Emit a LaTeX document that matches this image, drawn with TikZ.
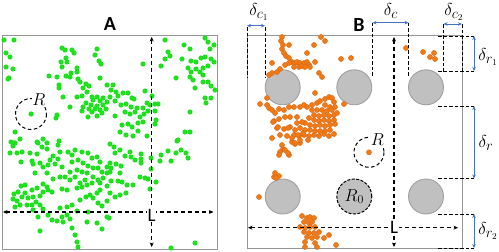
\documentclass[tikz,border=0pt]{standalone}
\usepackage{fontspec}
\setsansfont{Carlito}
\usetikzlibrary{arrows.meta}
\definecolor{dotgreen}{RGB}{30,225,30}
\definecolor{dotorange}{RGB}{240,122,24}
\definecolor{dotorangeedge}{RGB}{215,100,15}
\definecolor{obst}{RGB}{192,192,192}
\definecolor{obstedge}{RGB}{160,160,160}
\definecolor{dimblue}{RGB}{68,114,196}
\definecolor{framegray}{RGB}{150,150,150}
\begin{document}
\begin{tikzpicture}[x=1pt,y=-1pt,
  framebox/.style={draw=framegray,line width=0.9pt},
  Larrow/.style={dash pattern=on 4.5pt off 2.5pt, line width=1.2pt,
     {Stealth[length=4.5pt,width=4pt]}-{Stealth[length=4.5pt,width=4pt]}},
  guide/.style={dash pattern=on 3.5pt off 2pt, line width=0.9pt},
  bluearrow/.style={draw=dimblue, line width=0.7pt,
     {Stealth[length=4pt,width=3.5pt]}-{Stealth[length=4pt,width=3.5pt]}},
  obstacle/.style={circle, fill=obst, draw=obstedge, line width=0.9pt, minimum size=35pt, inner sep=0pt},
  gdot/.style={fill=dotgreen},
  odot/.style={fill=dotorange, draw=dotorangeedge, line width=0.3pt},
  title/.style={font=\fontsize{20}{20}\selectfont\sffamily\bfseries, inner sep=0pt},
  Llabel/.style={font=\fontsize{19}{19}\selectfont\sffamily, fill=white, inner sep=0.6pt},
  dlabel/.style={font=\fontsize{19}{19}\selectfont, inner sep=0pt},
  rlabel/.style={font=\fontsize{16}{16}\selectfont, fill=white, inner sep=0.6pt},
  rcircle/.style={draw, dash pattern=on 3.5pt off 2.5pt, line width=1pt}
]
\useasboundingbox (0,0) rectangle (499,252);

% ---------------- Panel A ----------------
\node[title] (titleA) at (110,24) {A};
\draw[framebox] (2,35) rectangle (217,249);

\foreach \x/\y in {4/40,14/40,6/53,10/57,6/67,13/69,9/78,8/79,
62/48,65/50,72/50,74/53,97/49,95/55,66/58,61/62,67/62,62/67,77/68,99/61,101/64,71/73,66/76,77/72,49/76,57/77,70/77,78/79,100/78,80/82,59/85,59/88,86/84,89/86,83/88,107/85,87/92,63/97,77/97,82/96,92/97,97/97,103/98,93/100,100/101,86/103,91/105,97/106,103/105,107/102,83/107,70/107,89/109,95/109,100/110,106/109,82/111,92/112,102/113,57/115,88/117,97/116,56/118,31/114,15/132,11/142,14/143,20/139,43/139,37/142,47/143,59/141,
165/40,184/45,190/49,205/38,208/42,214/45,210/49,168/52,170/56,165/59,161/66,182/59,191/61,196/62,201/58,205/57,211/59,214/62,188/68,196/69,203/68,208/66,191/72,200/72,190/77,203/75,193/80,208/82,211/86,215/90,203/82,195/88,143/64,176/78,205/98,211/98,206/103,190/112,185/132,190/132,178/140,
113/85,111/90,116/92,110/97,118/96,123/93,128/93,132/98,134/99,145/91,152/96,115/101,121/105,126/104,131/107,137/108,143/108,147/103,150/105,155/104,158/104,115/116,125/112,130/114,135/112,140/117,144/114,148/111,155/111,156/120,122/125,128/124,132/127,138/123,143/122,120/132,126/135,133/136,138/131,147/136,155/124,
15/143,13/146,10/153,17/153,22/152,30/153,38/143,42/147,37/154,47/149,58/145,60/152,53/156,50/160,58/159,48/165,55/164,32/161,33/164,21/162,40/163,43/167,62/167,68/152,72/155,75/150,82/152,88/153,92/158,97/157,100/162,72/162,78/160,83/163,88/166,93/168,98/168,102/172,107/167,107/173,87/173,82/172,77/170,70/172,65/177,70/180,75/177,80/183,85/180,93/177,98/180,103/178,60/177,53/179,35/173,47/173,43/184,47/187,37/188,32/190,25/185,21/186,18/192,14/194,13/199,17/201,22/197,25/193,28/198,33/197,36/202,40/196,43/192,48/190,52/192,40/205,32/205,27/205,20/205,15/207,43/209,33/210,48/215,52/220,38/217,57/221,62/217,63/222,67/215,70/219,77/211,60/208,67/207,72/205,80/200,86/197,90/195,93/198,97/193,100/190,98/203,102/206,107/201,88/212,87/222,97/223,102/229,72/228,75/235,77/242,78/247,40/231,107/217,82/187,87/185,77/188,67/190,62/189,92/183,100/183,107/186,
110/144,114/147,115/153,120/150,125/156,130/152,131/157,135/160,141/154,141/159,141/163,151/158,161/155,160/161,168/151,171/161,176/153,181/150,186/153,188/158,177/141,110/163,111/168,116/164,121/166,110/172,120/173,111/181,118/181,122/182,127/185,133/185,140/177,145/178,148/179,151/169,156/182,150/189,115/197,120/195,126/193,110/193,109/218,171/248,195/243}
  \fill[gdot] (\x,\y) circle (2.6);

% R circle A
\coordinate (cA) at (31,114);
\draw[rcircle] (cA) circle (15.5);
\node[rlabel] (RA) at (39,100) {$R$};

% L arrows A
\coordinate (AvT) at (151.7,37);
\coordinate (AvB) at (151.7,247);
\coordinate (AhL) at (3,212);
\coordinate (AhR) at (213.5,212);
\draw[Larrow] (AvT) -- (AvB);
\draw[Larrow] (AhL) -- (AhR);
\node[Llabel] (LA) at (151.7,215) {L};

% ---------------- Panel B ----------------
\node[title] (titleB) at (359,25) {B};
\draw[framebox] (247,35) rectangle (462,248);

\node[obstacle] (o11) at (282.7,87.3) {};
\node[obstacle] (o12) at (354.3,87.3) {};
\node[obstacle] (o13) at (426,87.3) {};
\node[obstacle] (o21) at (282.7,196.5) {};
\node[obstacle, draw=black, dash pattern=on 3pt off 1.5pt, line width=1pt] (o22) at (354.3,196.5) {\fontsize{17}{17}\selectfont$R_0$};
\node[obstacle] (o23) at (426,196.5) {};

\foreach \x/\y in {282/37,281/41,283/45,289/45,282/49,284/53,286/56,289/58,321/37,325/41,314/45,307/53,272/63,292/62,295/63,297/62,300/63,304/63,307/62,309/65,294/67,299/67,302/66,305/67,310/67,315/62,289/63,285/65,280/69,277/72,272/73,269/75,319/73,322/77,315/93,260/104,267/98,267/105,269/108,272/110,275/113,279/109,284/110,289/107,294/107,300/107,304/105,307/107,312/105,317/103,320/101,325/99,329/97,332/98,334/102,325/105,330/107,312/110,317/110,322/110,327/111,332/110,335/107,314/115,319/116,324/115,329/116,334/115,337/113,309/118,314/120,319/121,324/120,329/121,334/120,305/123,310/125,315/126,320/125,325/126,330/125,335/124,274/121,279/119,285/117,290/117,297/117,297/123,302/122,277/128,284/129,290/127,295/130,300/128,305/130,310/130,315/131,320/131,325/131,330/130,272/138,280/135,287/136,294/135,299/136,304/135,309/136,314/135,319/136,324/134,329/136,334/134,
292/142,295/144,300/143,280/152,279/155,283/149,289/155,273/122,278/127,288/128,298/135,303/133,292/138,295/143,300/140,308/140,282/145,285/150,288/153,
275/173,279/176,274/177,276/178,259/197,
302/216,307/218,310/217,314/218,304/222,309/223,312/222,300/227,305/228,310/227,315/227,304/232,309/233,314/233,319/232,307/237,312/238,317/237,324/238,329/235,305/242,315/243,336/245,305/247,317/247,
341/59,351/58,344/104,406/48,423/52,430/57,434/53,435/59,369/152.3}
  \filldraw[odot] (\x,\y) circle (2.6);

% R circle B
\coordinate (cB) at (369,152.3);
\draw[rcircle] (cB) circle (15);
\node[rlabel] (RB) at (377.5,139.5) {$R$};

% L arrows B
\coordinate (BvT) at (394,37);
\coordinate (BvB) at (394,247);
\coordinate (BhL) at (248,227.7);
\coordinate (BhR) at (458,227.7);
\draw[Larrow] (BvT) -- (BvB);
\draw[Larrow] (BhL) -- (BhR);
\node[Llabel] (LB) at (394,227) {L};

% delta c1
\coordinate (c1aT) at (247,27); \coordinate (c1aB) at (247,77);
\coordinate (c1bT) at (265,27); \coordinate (c1bB) at (265,77);
\draw[guide] (c1aT) -- (c1aB);
\draw[guide] (c1bT) -- (c1bB);
\coordinate (c1L) at (247,25.7); \coordinate (c1R) at (265,25.7);
\draw[bluearrow] (c1L) -- (c1R);
\node[dlabel] (dc1) at (259,12) {$\delta_{c_1}$};

% delta c
\coordinate (caT) at (372.5,22.7); \coordinate (caB) at (372.5,77);
\coordinate (cbT) at (408.5,22.7); \coordinate (cbB) at (408.5,77);
\draw[guide] (caT) -- (caB);
\draw[guide] (cbT) -- (cbB);
\draw[bluearrow] (caT) -- (cbT);
\node[dlabel] (dc) at (391,11) {$\delta_{c}$};

% delta c2
\coordinate (c2aT) at (443.5,24); \coordinate (c2aB) at (443.5,72);
\coordinate (c2bT) at (462,24); \coordinate (c2bB) at (462,72);
\draw[guide] (c2aT) -- (c2aB);
\draw[guide] (c2bT) -- (c2bB);
\draw[bluearrow] (c2aT) -- (c2bT);
\node[dlabel] (dc2) at (454,12) {$\delta_{c_2}$};

% delta r1
\coordinate (r1aL) at (438,36); \coordinate (r1aR) at (474,36);
\coordinate (r1bL) at (438,71); \coordinate (r1bR) at (474,71);
\draw[guide] (r1aL) -- (r1aR);
\draw[guide] (r1bL) -- (r1bR);
\draw[bluearrow] (r1aR) -- (r1bR);
\node[dlabel] (dr1) at (488,57) {$\delta_{r_1}$};

% delta r
\coordinate (raL) at (438,106); \coordinate (raR) at (474,106);
\coordinate (rbL) at (438,178.5); \coordinate (rbR) at (474,178.5);
\draw[guide] (raL) -- (raR);
\draw[guide] (rbL) -- (rbR);
\draw[bluearrow] (raR) -- (rbR);
\node[dlabel] (dr) at (486,143) {$\delta_{r}$};

% delta r2
\coordinate (r2aL) at (438,214); \coordinate (r2aR) at (474,214);
\coordinate (r2bL) at (438,248); \coordinate (r2bR) at (474,248);
\draw[guide] (r2aL) -- (r2aR);
\draw[guide] (r2bL) -- (r2bR);
\draw[bluearrow] (r2aR) -- (r2bR);
\node[dlabel] (dr2) at (488,231) {$\delta_{r_2}$};
\end{tikzpicture}
\end{document}
